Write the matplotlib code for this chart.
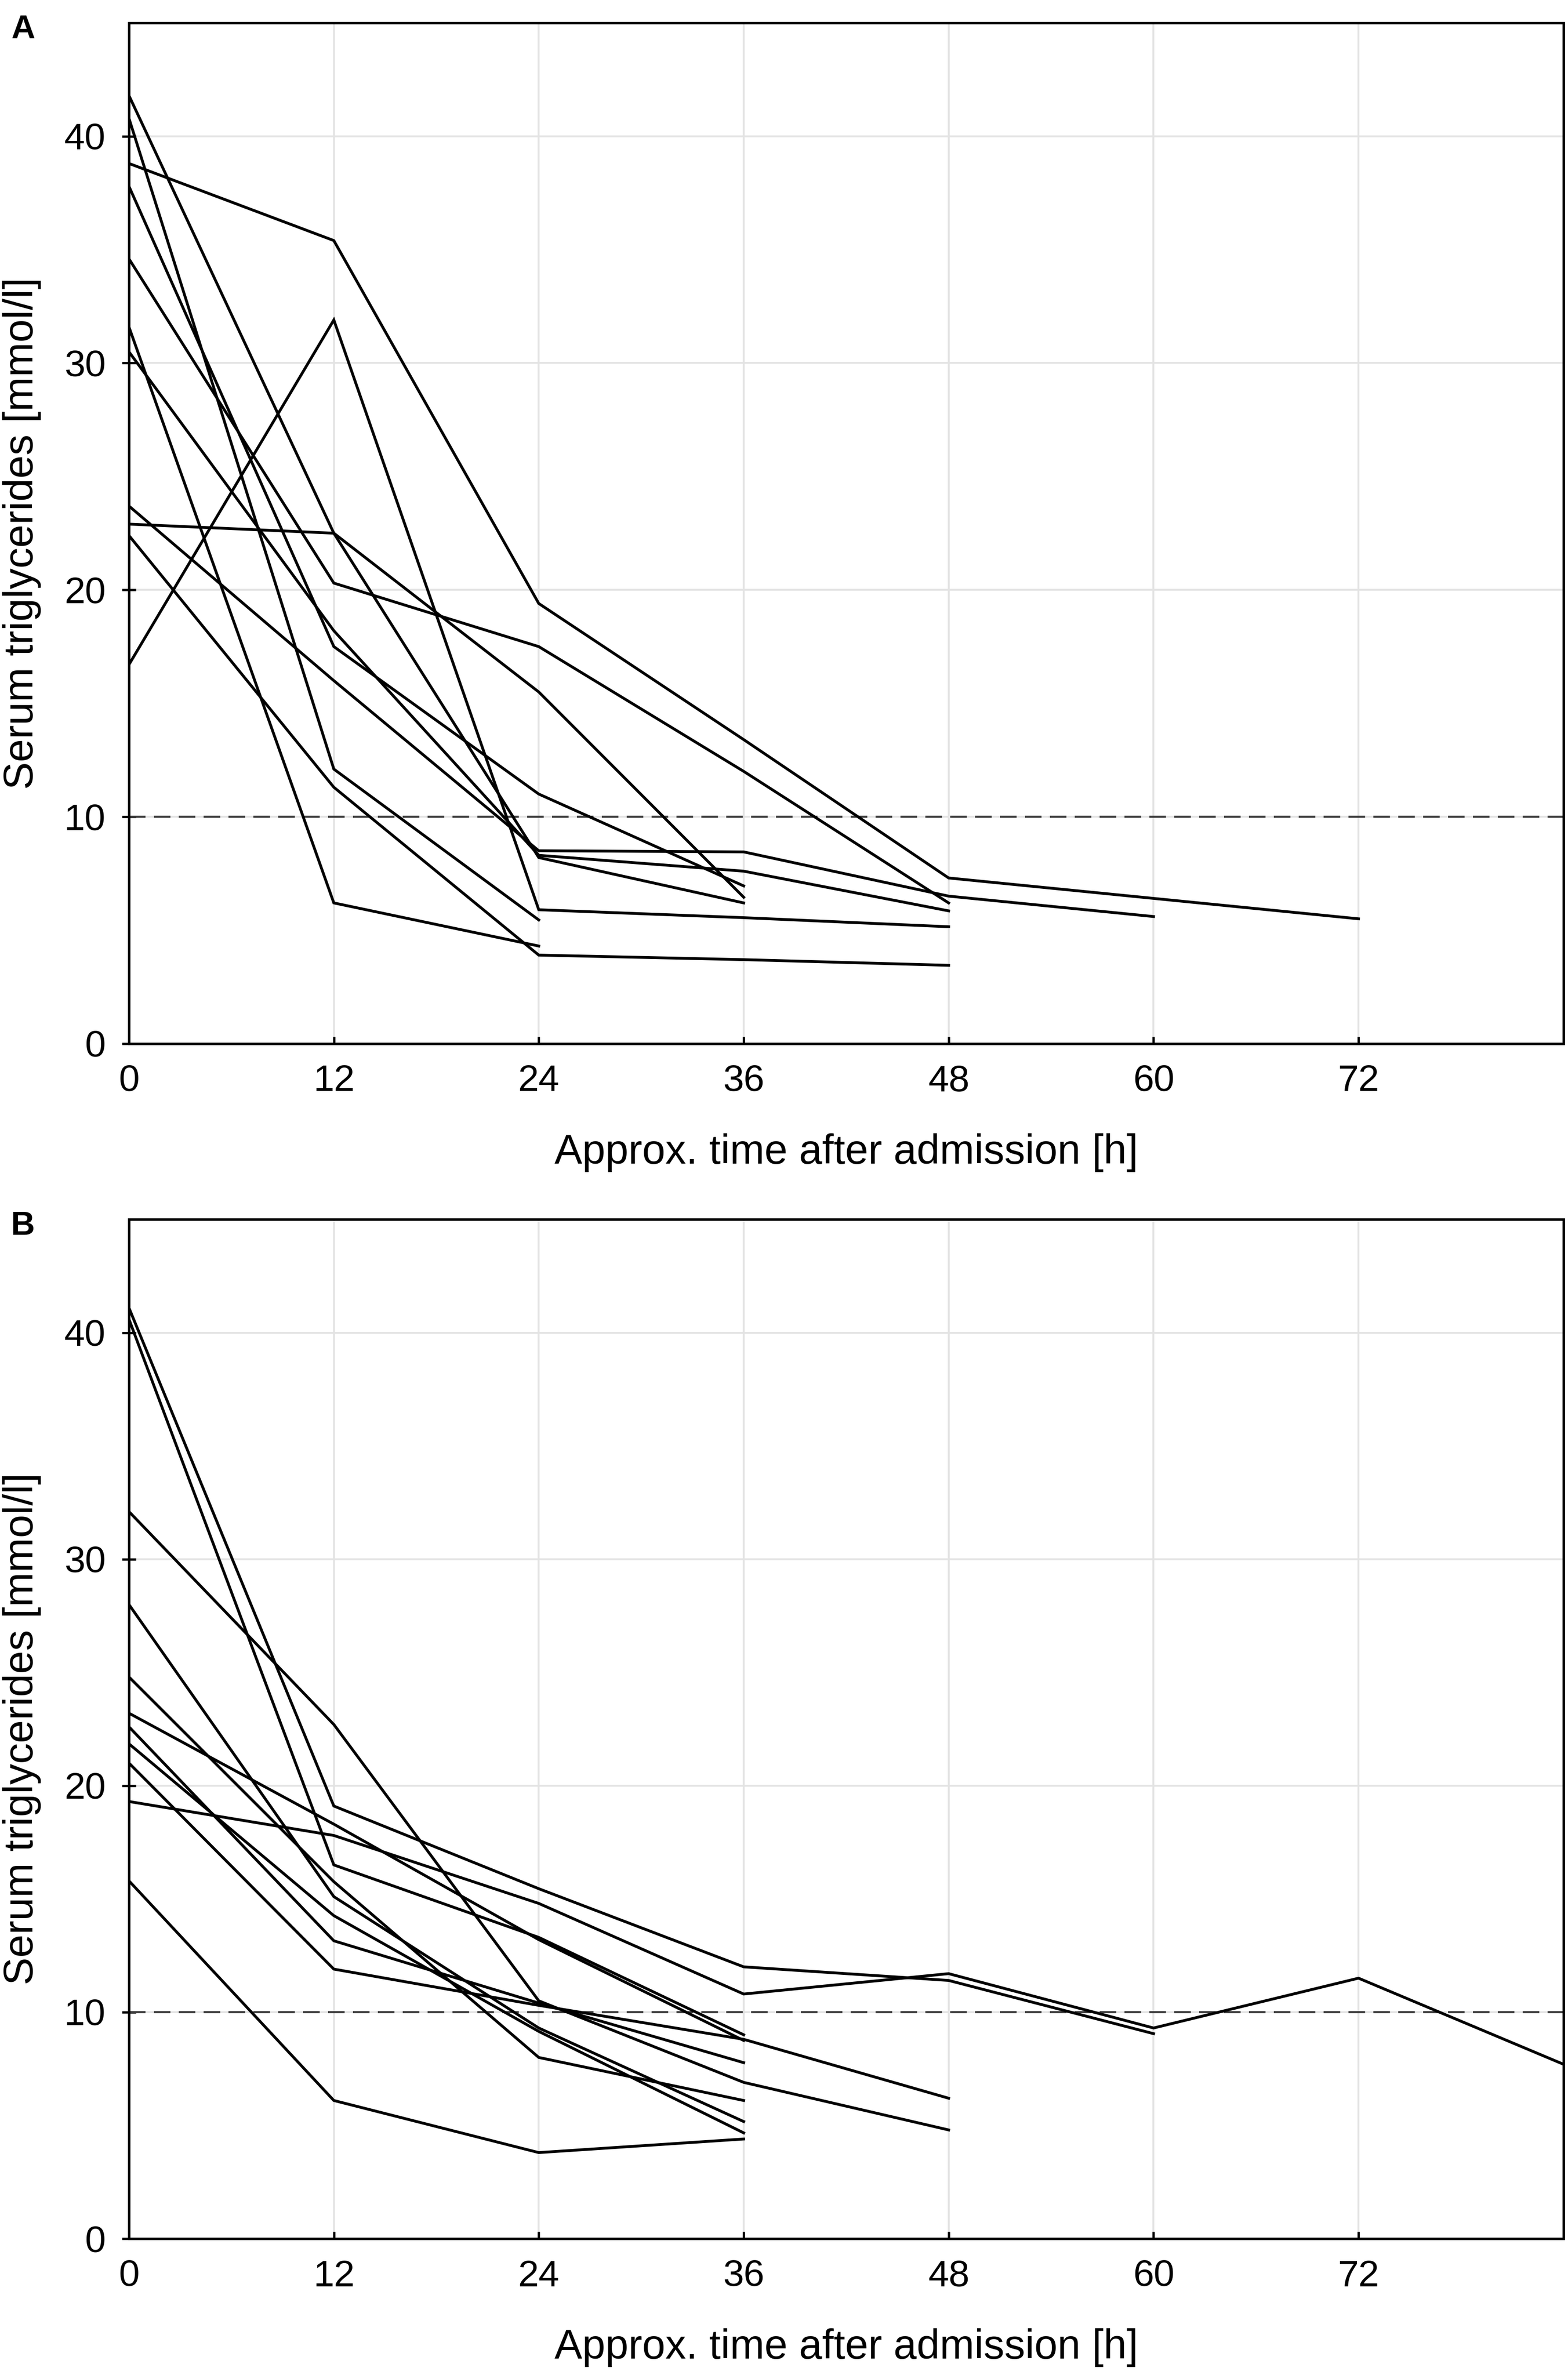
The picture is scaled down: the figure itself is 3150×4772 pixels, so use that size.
import matplotlib
matplotlib.use("Agg")
import matplotlib.pyplot as plt

plt.rcParams['font.family'] = ['Liberation Sans', 'DejaVu Sans']

# ---------- data ----------
# panel A: one list of sampling times [h] and one of serum TG [mmol/l] per patient
hours_a = [
    [0, 12, 24, 36, 48, 72],
    [0, 12, 24, 36, 48],
    [0, 12, 24, 36],
    [0, 12, 24, 36],
    [0, 12, 24, 36, 48],
    [0, 12, 24, 36],
    [0, 12, 24, 36, 48],
    [0, 12, 24, 36, 48, 60],
    [0, 12, 24],
    [0, 12, 24, 36, 48],
    [0, 12, 24],
]
tg_a = [
    [38.8, 35.4, 19.4, 13.4, 7.3, 5.5],
    [16.7, 31.9, 5.9, 5.55, 5.15],
    [41.8, 22.5, 8.2, 6.2],
    [22.9, 22.5, 15.5, 6.45],
    [34.6, 20.3, 17.5, 12.0, 6.2],
    [37.8, 17.5, 11.0, 6.95],
    [30.5, 18.2, 8.3, 7.6, 5.85],
    [23.7, 16.0, 8.5, 8.45, 6.5, 5.6],
    [40.8, 12.1, 5.45],
    [22.4, 11.3, 3.9, 3.7, 3.45],
    [31.6, 6.2, 4.3],
]

# panel B
hours_b = [
    [0, 12, 24, 36, 48, 60],
    [0, 12, 24, 36],
    [0, 12, 24, 36, 48],
    [0, 12, 24, 36],
    [0, 12, 24, 36],
    [0, 12, 24, 36],
    [0, 12, 24, 36],
    [0, 12, 24, 36],
    [0, 12, 24, 36, 48],
    [0, 12, 24, 36, 48, 60, 72, 84],
    [0, 12, 24, 36],
]
tg_b = [
    [41.1, 19.1, 15.45, 12.0, 11.4, 9.05],
    [40.6, 16.5, 13.3, 9.0],
    [32.1, 22.7, 10.5, 6.9, 4.8],
    [28.0, 15.1, 9.3, 5.17],
    [24.8, 15.76, 8.0, 6.1],
    [23.2, 18.3, 13.2, 8.75],
    [22.6, 13.15, 10.4, 7.77],
    [21.85, 14.26, 9.15, 4.67],
    [21.0, 11.9, 10.3, 8.8, 6.2],
    [19.3, 17.8, 14.8, 10.8, 11.7, 9.3, 11.5, 7.7],
    [15.8, 6.1, 3.8, 4.4],
]

threshold = 10
xticks = [0, 12, 24, 36, 48, 60, 72]
yticks = [0, 10, 20, 30, 40]

# ---------- figure ----------
fig = plt.figure(figsize=(10.5, 15.9067), dpi=300)

# axes rectangles in figure fraction (left, bottom, width, height)
rects = [(0.0822, 0.5606, 0.9149, 0.4298),
         (0.0822, 0.0574, 0.9149, 0.4292)]
panels = [('A', hours_a, tg_a), ('B', hours_b, tg_b)]

for rect, (letter, hours, tg) in zip(rects, panels):
    ax = fig.add_axes(rect)
    for h, v in zip(hours, tg):
        ax.plot(h, v, color='black', linewidth=1.35, solid_joinstyle='miter', zorder=3)

    ax.axhline(threshold, color='#3a3a3a', linewidth=1.0, dashes=(8, 4), zorder=2)

    ax.set_xlim(0, 84)
    ax.set_ylim(0, 45)
    ax.set_xticks(xticks)
    ax.set_yticks(yticks)
    ax.grid(True, color='#e3e3e3', linewidth=0.9, zorder=0)
    ax.set_axisbelow(True)

    ax.tick_params(axis='x', direction='in', length=3.3, width=1.1,
                   labelsize=18, colors='black', pad=10)
    ax.tick_params(axis='y', direction='inout', length=6.5, width=1.1,
                   labelsize=18, colors='black', pad=8)
    for s in ax.spines.values():
        s.set_linewidth(1.2)
        s.set_color('black')

    ax.set_xlabel('Approx. time after admission [h]', fontsize=20)
    ax.set_ylabel('Serum triglycerides [mmol/l]', fontsize=20)
    ax.xaxis.set_label_coords(0.5, -0.088)
    ax.yaxis.set_label_coords(-0.061, 0.5)

    # panel letter
    fig.text(0.0146, rect[1] + rect[3] - 0.003, letter, fontsize=16,
             fontweight='bold', ha='center', va='center')

fig.savefig('out.png', dpi=300)
